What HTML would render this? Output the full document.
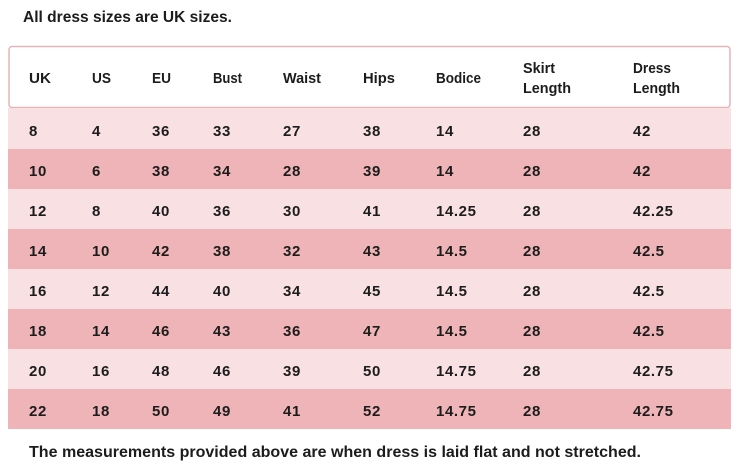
<!DOCTYPE html>
<html>
<head>
<meta charset="utf-8">
<style>
html,body{margin:0;padding:0;background:#fff;}
body{width:740px;height:471px;overflow:hidden;}
svg{display:block;}
text{font-family:"Liberation Sans",Arial,sans-serif;font-weight:bold;fill:#1c1c1c;}
.d text{letter-spacing:0.6px;}
</style>
</head>
<body>
<svg width="740" height="471" viewBox="0 0 740 471" xmlns="http://www.w3.org/2000/svg">
  <rect width="740" height="471" fill="#ffffff"/>
  <text x="23" y="22" font-size="16" textLength="209" lengthAdjust="spacingAndGlyphs">All dress sizes are UK sizes.</text>

  <!-- header box -->
  <rect x="9" y="46.5" width="721" height="61" rx="3" ry="3" fill="#ffffff" stroke="#e2b6b9" stroke-width="1.5"/>

  <!-- rows -->
  <rect x="8" y="108" width="723" height="41" fill="#f9e1e3"/>
  <rect x="8" y="149" width="723" height="40" fill="#efb4b7"/>
  <rect x="8" y="189" width="723" height="40" fill="#f9e1e3"/>
  <rect x="8" y="229" width="723" height="40" fill="#efb4b7"/>
  <rect x="8" y="269" width="723" height="40" fill="#f9e1e3"/>
  <rect x="8" y="309" width="723" height="40" fill="#efb4b7"/>
  <rect x="8" y="349" width="723" height="40" fill="#f9e1e3"/>
  <rect x="8" y="389" width="723" height="40" fill="#efb4b7"/>

  <!-- header text -->
  <g font-size="15">
    <text x="29" y="83" textLength="22" lengthAdjust="spacingAndGlyphs">UK</text>
    <text x="92" y="83" textLength="19" lengthAdjust="spacingAndGlyphs">US</text>
    <text x="152" y="83" textLength="19" lengthAdjust="spacingAndGlyphs">EU</text>
    <text x="213" y="83" textLength="29" lengthAdjust="spacingAndGlyphs">Bust</text>
    <text x="283" y="83" textLength="38" lengthAdjust="spacingAndGlyphs">Waist</text>
    <text x="363" y="83" textLength="32" lengthAdjust="spacingAndGlyphs">Hips</text>
    <text x="436" y="83" textLength="45" lengthAdjust="spacingAndGlyphs">Bodice</text>
    <text x="523" y="73" textLength="32" lengthAdjust="spacingAndGlyphs">Skirt</text>
    <text x="523" y="93" textLength="48" lengthAdjust="spacingAndGlyphs">Length</text>
    <text x="633" y="73" textLength="38" lengthAdjust="spacingAndGlyphs">Dress</text>
    <text x="633" y="93" textLength="47" lengthAdjust="spacingAndGlyphs">Length</text>
  </g>

  <!-- data -->
  <g font-size="15" class="d">
    <g transform="translate(0,136)">
      <text x="29">8</text><text x="92">4</text><text x="152">36</text><text x="213">33</text><text x="283">27</text><text x="363">38</text><text x="436">14</text><text x="523">28</text><text x="633">42</text>
    </g>
    <g transform="translate(0,176)">
      <text x="29">10</text><text x="92">6</text><text x="152">38</text><text x="213">34</text><text x="283">28</text><text x="363">39</text><text x="436">14</text><text x="523">28</text><text x="633">42</text>
    </g>
    <g transform="translate(0,216)">
      <text x="29">12</text><text x="92">8</text><text x="152">40</text><text x="213">36</text><text x="283">30</text><text x="363">41</text><text x="436">14.25</text><text x="523">28</text><text x="633">42.25</text>
    </g>
    <g transform="translate(0,256)">
      <text x="29">14</text><text x="92">10</text><text x="152">42</text><text x="213">38</text><text x="283">32</text><text x="363">43</text><text x="436">14.5</text><text x="523">28</text><text x="633">42.5</text>
    </g>
    <g transform="translate(0,296)">
      <text x="29">16</text><text x="92">12</text><text x="152">44</text><text x="213">40</text><text x="283">34</text><text x="363">45</text><text x="436">14.5</text><text x="523">28</text><text x="633">42.5</text>
    </g>
    <g transform="translate(0,336)">
      <text x="29">18</text><text x="92">14</text><text x="152">46</text><text x="213">43</text><text x="283">36</text><text x="363">47</text><text x="436">14.5</text><text x="523">28</text><text x="633">42.5</text>
    </g>
    <g transform="translate(0,376)">
      <text x="29">20</text><text x="92">16</text><text x="152">48</text><text x="213">46</text><text x="283">39</text><text x="363">50</text><text x="436">14.75</text><text x="523">28</text><text x="633">42.75</text>
    </g>
    <g transform="translate(0,416)">
      <text x="29">22</text><text x="92">18</text><text x="152">50</text><text x="213">49</text><text x="283">41</text><text x="363">52</text><text x="436">14.75</text><text x="523">28</text><text x="633">42.75</text>
    </g>
  </g>

  <text x="29" y="457" font-size="15.5" textLength="612" lengthAdjust="spacingAndGlyphs">The measurements provided above are when dress is laid flat and not stretched.</text>
</svg>
</body>
</html>
